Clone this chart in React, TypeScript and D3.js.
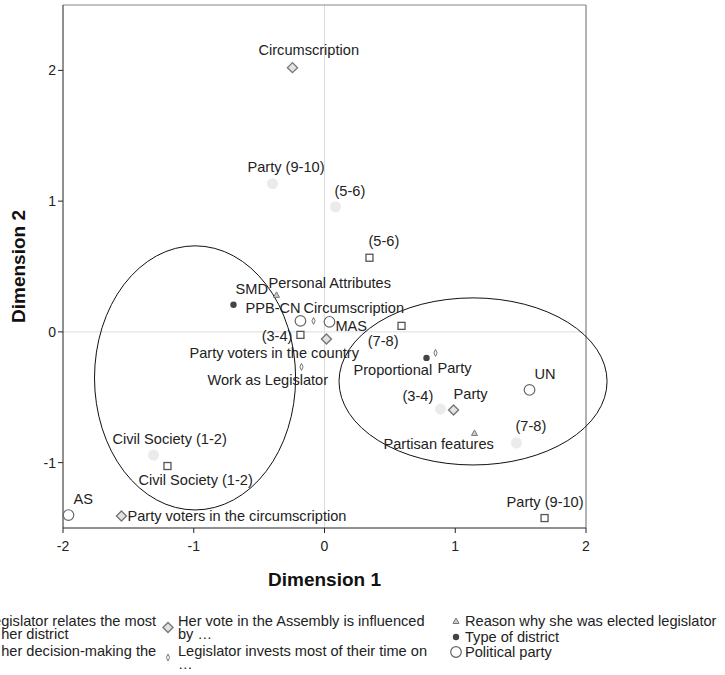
import React from "react";
import * as d3 from "d3";

// category quantification points, one array per variable
const districtCats = ["(5-6)", "(3-4)", "(7-8)", "Civil Society (1-2)", "Party (9-10)"];
const districtX = [0.344, -0.184, 0.589, -1.201, 1.683];
const districtY = [0.567, -0.023, 0.046, -1.026, -1.424];

const decisionCats = ["Party (9-10)", "(5-6)", "(3-4)", "(7-8)", "Civil Society (1-2)"];
const decisionX = [-0.398, 0.084, 0.887, 1.468, -1.308];
const decisionY = [1.133, 0.957, -0.59, -0.85, -0.942];

const voteCats = ["Circumscription", "Party voters in the country", "Party", "Party voters in the circumscription"];
const voteX = [-0.245, 0.015, 0.987, -1.553];
const voteY = [2.021, -0.054, -0.597, -1.409];

const timeCats = ["Circumscription", "Work as Legislator", "Party"];
const timeX = [-0.084, -0.176, 0.849];
const timeY = [0.084, -0.268, -0.161];

const reasonCats = ["Personal Attributes", "Partisan features"];
const reasonX = [-0.367, 1.147];
const reasonY = [0.283, -0.773];

const typeCats = ["SMD", "Proportional"];
const typeX = [-0.696, 0.78];
const typeY = [0.207, -0.199];

const partyCats = ["PPB-CN", "MAS", "UN", "AS"];
const partyX = [-0.184, 0.038, 1.568, -1.958];
const partyY = [0.084, 0.077, -0.444, -1.401];

const xTicks = [-2, -1, 0, 1, 2];
const yTicks = [-1, 0, 1, 2];

// hand-drawn group ellipses (centre, radii in dimension units)
const ellipseCx = [-0.99, 1.136];
const ellipseCy = [-0.352, -0.379];
const ellipseRx = [0.769, 1.025];
const ellipseRy = [1.01, 0.639];

// label placement, pixels from the point: [dx, dy, anchor]
type Place = [number, number, string];
const districtPlace: Place[] = [[-1, -12, "start"], [-8, 6, "end"], [-3, 20, "end"], [-29, 19, "start"], [-38, -11, "start"]];
const decisionPlace: Place[] = [[-25, -12, "start"], [-1, -11, "start"], [-38, -8, "start"], [-1, -12, "start"], [-41, -11, "start"]];
const votePlace: Place[] = [[-34, -13, "start"], [-137, 19, "start"], [0, -11, "start"], [6, 5, "start"]];
const timePlace: Place[] = [[-10, -8, "start"], [-94, 18, "start"], [2, 20, "start"]];
const reasonPlace: Place[] = [[-8, -7, "start"], [-91, 16, "start"]];
const typePlace: Place[] = [[2, -11, "start"], [-73, 17, "start"]];
const partyPlace: Place[] = [[-55, -8, "start"], [6, 9, "start"], [5, -11, "start"], [5, -11, "start"]];

const FONT = "'Liberation Sans', Arial, sans-serif";
const LABEL = 14.6;

const left = 63, right = 586, top = 5, bottom = 528;
const x = d3.scaleLinear().domain([-2, 2]).range([left, right]);
const y = d3.scaleLinear().domain([-1.5, 2.5]).range([bottom, top]);

type Kind = "square" | "light" | "diamond" | "thin" | "triangle" | "dot" | "ring";

const Marker: React.FC<{ kind: Kind; cx: number; cy: number }> = ({ kind, cx, cy }) => {
  switch (kind) {
    case "square":
      return <rect x={cx - 3.5} y={cy - 3.5} width={7} height={7} fill="#fff" stroke="#555" strokeWidth={1.3} />;
    case "light":
      return <circle cx={cx} cy={cy} r={5.5} fill="#ebebeb" />;
    case "diamond":
      return <path d={`M${cx},${cy - 5}L${cx + 5},${cy}L${cx},${cy + 5}L${cx - 5},${cy}Z`} fill="#e2e2e2" stroke="#777" strokeWidth={1.4} />;
    case "thin":
      return <path d={`M${cx},${cy - 3.5}L${cx + 1.6},${cy}L${cx},${cy + 3.5}L${cx - 1.6},${cy}Z`} fill="#fff" stroke="#777" strokeWidth={1} />;
    case "triangle":
      return <path d={`M${cx},${cy - 3}L${cx + 3},${cy + 2.5}L${cx - 3},${cy + 2.5}Z`} fill="#ccc" stroke="#777" strokeWidth={1} />;
    case "dot":
      return <circle cx={cx} cy={cy} r={3.2} fill="#444" />;
    default:
      return <circle cx={cx} cy={cy} r={5.3} fill="#fff" stroke="#666" strokeWidth={1.2} />;
  }
};

const series: { kind: Kind; cats: string[]; xs: number[]; ys: number[]; place: Place[] }[] = [
  { kind: "light", cats: decisionCats, xs: decisionX, ys: decisionY, place: decisionPlace },
  { kind: "square", cats: districtCats, xs: districtX, ys: districtY, place: districtPlace },
  { kind: "diamond", cats: voteCats, xs: voteX, ys: voteY, place: votePlace },
  { kind: "thin", cats: timeCats, xs: timeX, ys: timeY, place: timePlace },
  { kind: "triangle", cats: reasonCats, xs: reasonX, ys: reasonY, place: reasonPlace },
  { kind: "dot", cats: typeCats, xs: typeX, ys: typeY, place: typePlace },
  { kind: "ring", cats: partyCats, xs: partyX, ys: partyY, place: partyPlace },
];

// first legend column runs off the left edge, as in the source image
const legendRows: { kind: Kind; lines: string[]; mx: number; tx: number; ty: number }[] = [
  { kind: "square", lines: ["Legislator relates the most", "to her district"], mx: -24, tx: -15, ty: 626 },
  { kind: "light", lines: ["In her decision-making the"], mx: -24, tx: -15, ty: 656 },
  { kind: "diamond", lines: ["Her vote in the Assembly is influenced", "by \u2026"], mx: 168, tx: 178, ty: 626 },
  { kind: "thin", lines: ["Legislator invests most of their time on", "\u2026"], mx: 168, tx: 178, ty: 656 },
  { kind: "triangle", lines: ["Reason why she was elected legislator"], mx: 456, tx: 465, ty: 626 },
  { kind: "dot", lines: ["Type of district"], mx: 456, tx: 465, ty: 642 },
  { kind: "ring", lines: ["Political party"], mx: 456, tx: 465, ty: 657 },
];
const LINE = 13;

export default function App() {
  const kx = x(1) - x(0);
  const ky = y(0) - y(1);
  return (
    <svg width={725} height={675} style={{ position: "absolute", left: 0, top: 0, background: "#fff" }} fontFamily={FONT}>
      <rect x={0} y={0} width={725} height={675} fill="#fff" />
      {/* reference lines through the origin */}
      <line x1={x(0)} x2={x(0)} y1={top} y2={bottom} stroke="#ddd" />
      <line x1={left} x2={right} y1={y(0)} y2={y(0)} stroke="#ddd" />
      {/* frame */}
      <line x1={left} x2={right} y1={top} y2={top} stroke="#888" />
      <line x1={right} x2={right} y1={top} y2={bottom} stroke="#666" />
      <line x1={left} x2={left} y1={top} y2={bottom} stroke="#222" />
      <line x1={left} x2={right} y1={bottom} y2={bottom} stroke="#222" />
      {xTicks.map(t => (
        <g key={"x" + t}>
          <line x1={x(t)} x2={x(t)} y1={bottom} y2={bottom + 5} stroke="#222" />
          <text x={x(t)} y={bottom + 23} fontSize={14} textAnchor="middle" fill="#222">{t}</text>
        </g>
      ))}
      {yTicks.map(t => (
        <g key={"y" + t}>
          <line x1={left - 5} x2={left} y1={y(t)} y2={y(t)} stroke="#222" />
          <text x={left - 7} y={y(t) + 5} fontSize={14} textAnchor="end" fill="#222">{t}</text>
        </g>
      ))}
      <text x={(left + right) / 2} y={586} fontSize={19} fontWeight="bold" textAnchor="middle" fill="#111">Dimension 1</text>
      <text transform={`translate(25,${(top + bottom) / 2}) rotate(-90)`} fontSize={19} fontWeight="bold" textAnchor="middle" fill="#111">Dimension 2</text>

      {ellipseCx.map((c, i) => (
        <ellipse key={"e" + i} cx={x(c)} cy={y(ellipseCy[i])} rx={ellipseRx[i] * kx} ry={ellipseRy[i] * ky} fill="none" stroke="#111" strokeWidth={1} />
      ))}

      {series.map((s, si) => (
        <g key={"s" + si}>
          {s.cats.map((c, i) => (
            <Marker key={c + i} kind={s.kind} cx={x(s.xs[i])} cy={y(s.ys[i])} />
          ))}
        </g>
      ))}
      {series.map((s, si) => (
        <g key={"l" + si}>
          {s.cats.map((c, i) => (
            <text key={c + i} x={x(s.xs[i]) + s.place[i][0]} y={y(s.ys[i]) + s.place[i][1]} textAnchor={s.place[i][2]} fontSize={LABEL} fill="#222">{c}</text>
          ))}
        </g>
      ))}

      {legendRows.map((r, i) => (
        <g key={"lg" + i}>
          <Marker kind={r.kind} cx={r.mx} cy={r.ty - 5 + (r.lines.length - 1) * LINE / 2} />
          {r.lines.map((ln, j) => (
            <text key={j} x={r.tx} y={r.ty + j * LINE} fontSize={LABEL} fill="#222">{ln}</text>
          ))}
        </g>
      ))}
    </svg>
  );
}
